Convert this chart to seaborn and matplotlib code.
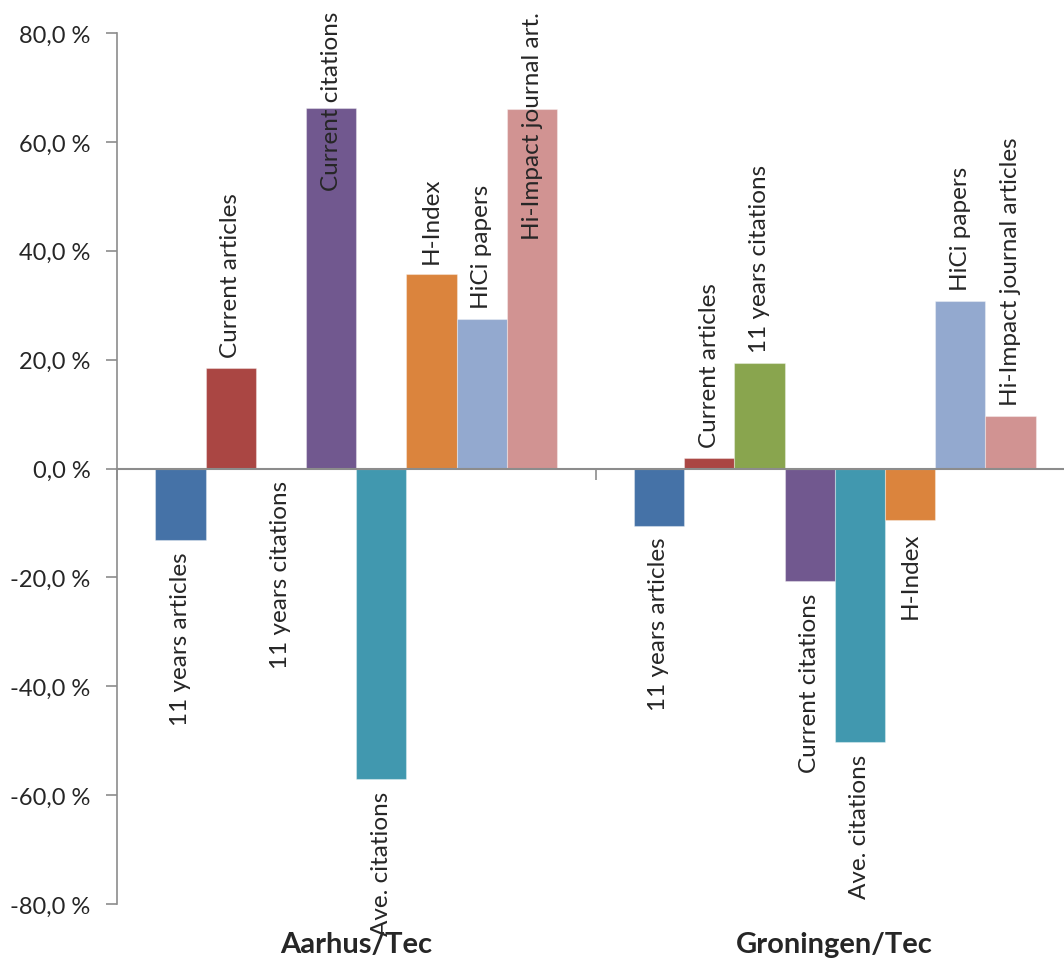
import matplotlib
matplotlib.use("Agg")
import matplotlib.pyplot as plt
import seaborn as sns
import pandas as pd

sns.set_style("white")
plt.rcParams["font.family"] = ["Lato", "DejaVu Sans"]

groups = ["Aarhus/Tec", "Groningen/Tec"]
metrics = ["11 years articles", "Current articles", "11 years citations", "Current citations",
           "Ave. citations", "H-Index", "HiCi papers", "Hi-Impact journal"]
aarhus_values = [-13.2, 18.4, -0.1, 66.3, -57.1, 35.7, 27.4, 66.1]
groningen_values = [-10.5, 2.0, 19.3, -20.7, -50.3, -9.5, 30.7, 9.6]
aarhus_labels = ["11 years articles", "Current articles", "11 years citations", "Current citations",
                 "Ave. citations", "H-Index", "HiCi papers", "Hi-Impact journal art."]
groningen_labels = ["11 years articles", "Current articles", "11 years citations", "Current citations",
                    "Ave. citations", "H-Index", "HiCi papers", "Hi-Impact journal articles"]
colors = ["#4572A7", "#AA4643", "#89A54E", "#71588F", "#4198AF", "#DB843D", "#93A9CF", "#D19392"]
yticks = [-80, -60, -40, -20, 0, 20, 40, 60, 80]

df = pd.DataFrame({
    "group": [groups[0]] * len(metrics) + [groups[1]] * len(metrics),
    "metric": metrics * 2,
    "value": aarhus_values + groningen_values,
})
labels = {groups[0]: aarhus_labels, groups[1]: groningen_labels}

fig = plt.figure(figsize=(10.64, 9.62), dpi=100)
ax = fig.add_axes([117 / 1064, 57 / 962, 957 / 1064, 871 / 962])

sns.barplot(data=df, x="group", y="value", hue="metric", hue_order=metrics, order=groups,
            palette=colors, width=0.84, saturation=1, gap=0, legend=False,
            edgecolor=(1, 1, 1, 0.35), linewidth=0.8, ax=ax)

ax.set_xlim(-0.5, 1.5)
ax.set_ylim(-80, 80)
ax.set_yticks(yticks)
ax.set_yticklabels([f"{v:.1f}".replace(".", ",") + " %" for v in yticks], fontsize=17)
ax.tick_params(axis="y", left=True, direction="out", length=8, width=1.2, color="#8c8c8c", pad=11)

for s in ["top", "right"]:
    ax.spines[s].set_visible(False)
ax.spines["left"].set_color("#8c8c8c")
ax.spines["left"].set_linewidth(1.2)
ax.spines["bottom"].set_position(("data", 0))
ax.spines["bottom"].set_color("#8c8c8c")
ax.spines["bottom"].set_linewidth(1.5)

ax.set_xticks([0, 1])
ax.set_xticklabels([])
ax.set_xticks([-0.5, 0.5, 1.5], minor=True)
ax.tick_params(axis="x", which="major", length=0)
ax.tick_params(axis="x", which="minor", bottom=True, direction="out", length=8, width=1.2,
               color="#8c8c8c")
ax.set_xlabel("")
ax.set_ylabel("")

for i, g in enumerate(groups):
    ax.text(i, -0.046, g, transform=ax.get_xaxis_transform(), ha="center", va="center",
            fontsize=21, fontweight="bold")

# data labels, rotated, outside end of each bar
texts = []
for k, cont in enumerate(ax.containers):
    for i, bar in enumerate(cont):
        v = df[(df["group"] == groups[i]) & (df["metric"] == metrics[k])]["value"].iloc[0]
        xc = bar.get_x() + bar.get_width() / 2
        up = v >= 0
        t = ax.annotate(labels[groups[i]][k], xy=(xc, v), xytext=(0, 8 if up else -8),
                        textcoords="offset points", rotation=90, ha="center",
                        va="bottom" if up else "top", fontsize=17.5)
        texts.append(t)

# keep labels inside the chart area like Excel does
fig.canvas.draw()
top_px = fig.bbox.height - 12
for t in texts:
    bb = t.get_window_extent()
    if bb.y1 > top_px:
        dx, dy = t.xyann
        t.xyann = (dx, dy - (bb.y1 - top_px) * 72 / fig.dpi)

fig.savefig("out.png", dpi=100)
